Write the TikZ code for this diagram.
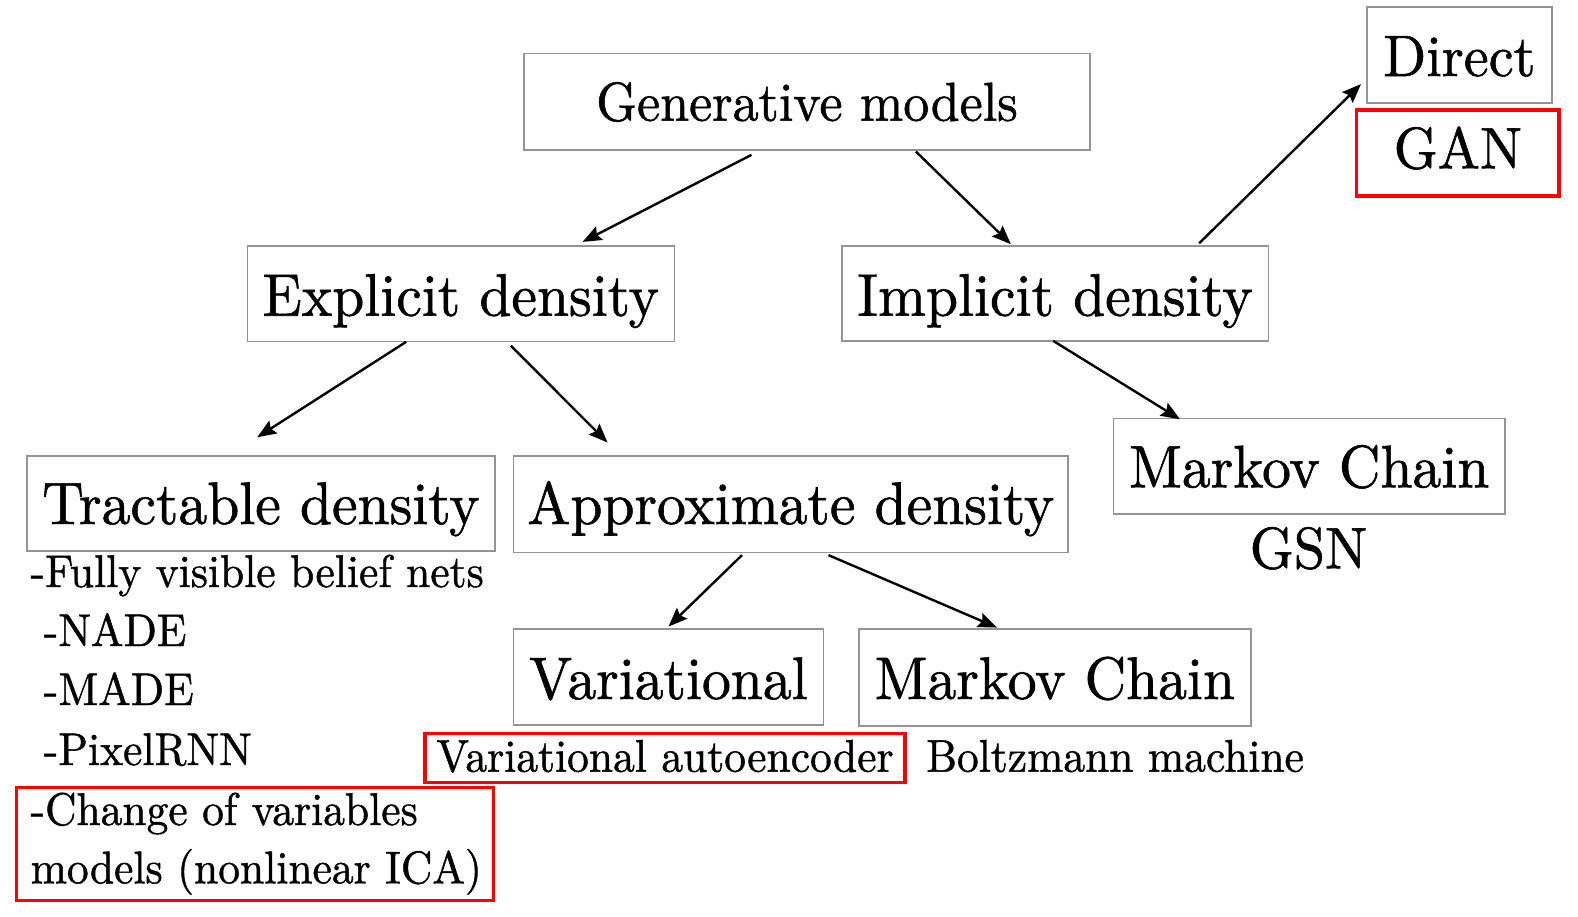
\documentclass[tikz,border=0pt]{standalone}
\usepackage{fontspec}
\setmainfont{lmroman10-regular.otf}[FakeBold=1.0]
\usepackage{graphicx}
\usetikzlibrary{arrows.meta,calc}
\newcommand{\sq}[1]{\scalebox{0.96}[1]{#1}}
\newcommand{\sqs}[1]{\scalebox{0.95}[1]{#1}}
\tikzset{
  gbox/.style={draw=black!42, line width=1.6pt, inner sep=0pt, text depth=0pt, font=\fontsize{60}{72}\selectfont},
  rbox/.style={draw=red, line width=3.2pt, inner sep=0pt, text depth=0pt},
  arr/.style={-{Stealth[length=19pt,width=15pt,inset=3pt]}, line width=2.4pt},
  small/.style={inner sep=0pt, font=\fontsize{45.8}{55}\selectfont},
  mid/.style={inner sep=0pt, font=\fontsize{58.5}{70}\selectfont},
}
\begin{document}
\begin{tikzpicture}[x=1pt,y=-1pt]
\useasboundingbox (0,0) rectangle (1578,916);
% boxes
\node[gbox, minimum width=566pt, minimum height=96.7pt, text height=38pt, font=\fontsize{54.8}{66}\selectfont] (gen) at (807,101.7) {\sqs{Generative models}};
\node[gbox, minimum width=427pt, minimum height=95.6pt, text height=44.4pt] (expl) at (460.8,293.5) {\sq{Explicit density}};
\node[gbox, minimum width=426.6pt, minimum height=95.3pt, text height=44.6pt] (impl) at (1055,293.4) {\sq{Implicit density}};
\node[gbox, minimum width=185.3pt, minimum height=96.3pt, text height=42.2pt, font=\fontsize{58.5}{70}\selectfont] (direct) at (1459.4,54.9) {\sq{Direct}};
\node[rbox, minimum width=202.3pt, minimum height=86pt, text height=30.6pt, font=\fontsize{58.5}{70}\selectfont] (gan) at (1457.9,153) {\sq{GAN}};
\node[gbox, minimum width=468.3pt, minimum height=94.7pt, text height=41.2pt] (trac) at (260.9,503.4) {\sq{Tractable density}};
\node[gbox, minimum width=554.7pt, minimum height=96.3pt, text height=39.6pt] (approx) at (790.7,504.2) {\sq{Approximate density}};
\node[gbox, minimum width=391.7pt, minimum height=95.7pt, text height=42.2pt] (markR) at (1309.2,466.2) {\sq{Markov Chain}};
\node[mid, anchor=base] (gsn) at (1308.5,568.3) {\sq{GSN}};
\node[gbox, minimum width=310pt, minimum height=96pt, text height=44pt] (var) at (668.3,677) {\sq{Variational}};
\node[gbox, minimum width=391.7pt, minimum height=96.7pt, text height=43.2pt] (markL) at (1054.9,677.4) {\sq{Markov Chain}};
\node[rbox, minimum width=480pt, minimum height=49.4pt, text height=27.4pt, font=\fontsize{45.8}{55}\selectfont] (vae) at (665,758) {\sqs{Variational autoencoder}};
\node[small, anchor=base west] (boltz) at (926,771.7) {\sqs{Boltzmann machine}};
% left list
\node[small, anchor=base west] (fvbn) at (30.4,587) {\sqs{-Fully visible belief nets}};
\node[small, anchor=base west] (nade) at (43.7,646) {\sqs{-NADE}};
\node[small, anchor=base west] (made) at (43.7,705) {\sqs{-MADE}};
\node[small, anchor=base west] (prnn) at (43.7,765) {\sqs{-PixelRNN}};
\node[rbox, minimum width=476.6pt, minimum height=113.4pt] (cvbox) at (255,844) {};
\node[small, anchor=base west] (cv1) at (30.4,825) {\sqs{-Change of variables}};
\node[small, anchor=base west] (cv2) at (30.5,883.3) {\sqs{models (nonlinear ICA)}};
% arrows
\draw[arr] ([shift={(228.3,4)}]gen.south west) -- ([shift={(336,-3)}]expl.north west);
\draw[arr] ([shift={(392.7,0.7)}]gen.south west) -- ([shift={(170,-0.7)}]impl.north west);
\draw[arr] ([shift={(358.3,-1.7)}]impl.north west) -- ([shift={(-5,-19.7)}]direct.south west);
\draw[arr] ([shift={(159.7,-0.3)}]expl.south west) -- ([shift={(231.3,-18)}]trac.north west);
\draw[arr] ([shift={(264.4,3.7)}]expl.south west) -- ([shift={(95,-12.7)}]approx.north west);
\draw[arr] ([shift={(212.3,-1)}]impl.south west) -- ([shift={(67.4,1.7)}]markR.north west);
\draw[arr] ([shift={(229.4,2)}]approx.south west) -- ([shift={(156,-1.7)}]var.north west);
\draw[arr] ([shift={(316,2)}]approx.south west) -- ([shift={(138.7,-0.7)}]markL.north west);
\end{tikzpicture}
\end{document}
